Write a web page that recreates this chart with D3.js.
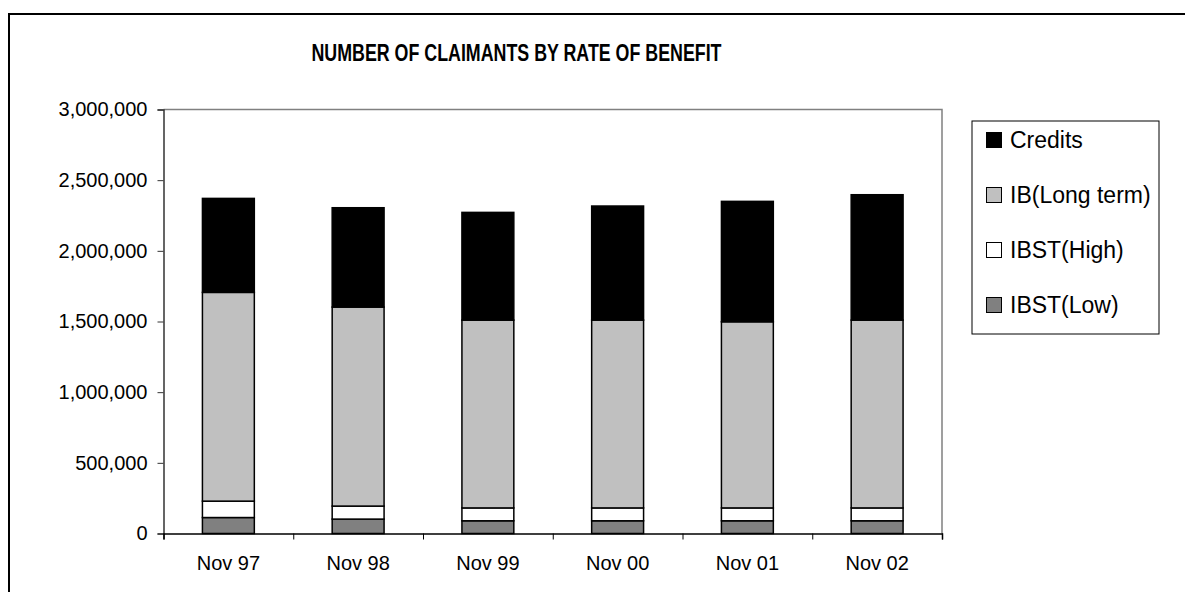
<!DOCTYPE html>
<html>
<head>
<meta charset="utf-8">
<script src="https://cdn.jsdelivr.net/npm/d3@7"></script>
<style>
  body { margin: 0; background: #fff; }
  text { font-family: "Liberation Sans", Arial, sans-serif; fill: #000; }
</style>
</head>
<body>
<script>
const months = ["Nov 97", "Nov 98", "Nov 99", "Nov 00", "Nov 01", "Nov 02"]; //Categories.
const seriesNames = ["IBST(Low)", "IBST(High)", "IB(Long term)", "Credits"]; //Stack order, bottom up.
const ibstLow = [113000, 102000, 90000, 90000, 90000, 90000];
const ibstHigh = [116000, 92000, 91000, 91000, 91000, 91000];
const ibLong = [1477000, 1408000, 1329000, 1329000, 1317000, 1329000];
const credits = [665000, 703000, 762000, 807000, 852000, 887000];
const yTicks = [0, 500000, 1000000, 1500000, 2000000, 2500000, 3000000];
const legendOrder = ["Credits", "IB(Long term)", "IBST(High)", "IBST(Low)"];

const svgWidth = 1185;
const svgHeight = 592;
const plotLeft = 163.5, plotRight = 942, plotTop = 109.5, plotBottom = 533.5;

const colours = { "IBST(Low)": "#808080", "IBST(High)": "#ffffff", "IB(Long term)": "#c0c0c0", "Credits": "#000000" };

//Build rows for d3.stack from the arrays.
const rows = months.map(function(m, i) {
  return { month: m, "IBST(Low)": ibstLow[i], "IBST(High)": ibstHigh[i], "IB(Long term)": ibLong[i], "Credits": credits[i] };
});
const stacked = d3.stack().keys(seriesNames)(rows);

const svg = d3.select("body").append("svg")
  .attr("width", svgWidth)
  .attr("height", svgHeight);

//Outer chart border (runs off the right and bottom edge).
svg.append("rect")
  .attr("x", 9).attr("y", 14)
  .attr("width", 1300).attr("height", 700)
  .attr("fill", "none").attr("stroke", "#000").attr("stroke-width", 2);

svg.append("text") //Title.
  .attr("x", 516.5).attr("y", 61)
  .attr("text-anchor", "middle")
  .attr("font-size", 24).attr("font-weight", "bold")
  .attr("textLength", 410).attr("lengthAdjust", "spacingAndGlyphs")
  .text("NUMBER OF CLAIMANTS BY RATE OF BENEFIT");

const xScale = d3.scaleBand()
  .domain(months)
  .range([plotLeft, plotRight])
  .paddingInner(0.6)
  .paddingOuter(0.3);

const yScale = d3.scaleLinear()
  .domain([0, 3000000])
  .range([plotBottom, plotTop]);

//Plot area border, top and right.
svg.append("path")
  .attr("d", "M" + plotLeft + "," + plotTop + "H" + plotRight + "V" + plotBottom)
  .attr("fill", "none").attr("stroke", "#808080").attr("stroke-width", 1.5);

//Bars.
svg.append("g").selectAll("g")
  .data(stacked)
  .enter().append("g")
  .attr("fill", function(d) { return colours[d.key]; })
  .selectAll("rect")
  .data(function(d) { return d; })
  .enter().append("rect")
  .attr("x", function(d) { return xScale(d.data.month); })
  .attr("y", function(d) { return yScale(d[1]); })
  .attr("width", xScale.bandwidth())
  .attr("height", function(d) { return yScale(d[0]) - yScale(d[1]); })
  .attr("stroke", "#000")
  .attr("stroke-width", 1.5);

//Y axis.
const yAxis = d3.axisLeft(yScale)
  .tickValues(yTicks)
  .tickFormat(d3.format(","))
  .tickSize(6)
  .tickPadding(10);
const yG = svg.append("g")
  .attr("transform", "translate(" + plotLeft + ",0)")
  .call(yAxis);
yG.select(".domain").attr("stroke", "#333").attr("stroke-width", 1.5);
yG.selectAll(".tick line").attr("stroke", "#333");
yG.selectAll("text").attr("font-size", 20).attr("font-family", "Liberation Sans, Arial, sans-serif").attr("fill", "#000");

//X axis: labels from the band scale, boundary ticks from an index scale.
const boundScale = d3.scaleLinear().domain([0, months.length]).range([plotLeft, plotRight]);
const xTickG = svg.append("g")
  .attr("transform", "translate(0," + plotBottom + ")")
  .call(d3.axisBottom(boundScale).ticks(months.length).tickFormat("").tickSize(6).tickSizeOuter(6));
xTickG.select(".domain").attr("stroke", "#000").attr("stroke-width", 1.5);
xTickG.selectAll(".tick line").attr("stroke", "#000");

const xLabG = svg.append("g")
  .attr("transform", "translate(0," + plotBottom + ")")
  .call(d3.axisBottom(xScale).tickSize(0).tickPadding(22));
xLabG.select(".domain").remove();
xLabG.selectAll("text").attr("font-size", 20).attr("font-family", "Liberation Sans, Arial, sans-serif").attr("fill", "#000");

//Legend.
const legend = svg.append("g");
legend.append("rect")
  .attr("x", 972).attr("y", 121)
  .attr("width", 187).attr("height", 213)
  .attr("fill", "#fff").attr("stroke", "#000").attr("stroke-width", 1);

const items = legend.selectAll("g.item")
  .data(legendOrder)
  .enter().append("g")
  .attr("class", "item")
  .attr("transform", function(d, i) { return "translate(986," + (148 + i * 55) + ")"; });
items.append("rect")
  .attr("x", 0.5).attr("y", -15.5)
  .attr("width", 15).attr("height", 15)
  .attr("fill", function(d) { return colours[d]; })
  .attr("stroke", "#000").attr("stroke-width", 1);
items.append("text")
  .attr("x", 24).attr("y", 0)
  .attr("font-size", 23)
  .text(function(d) { return d; });
</script>
</body>
</html>
